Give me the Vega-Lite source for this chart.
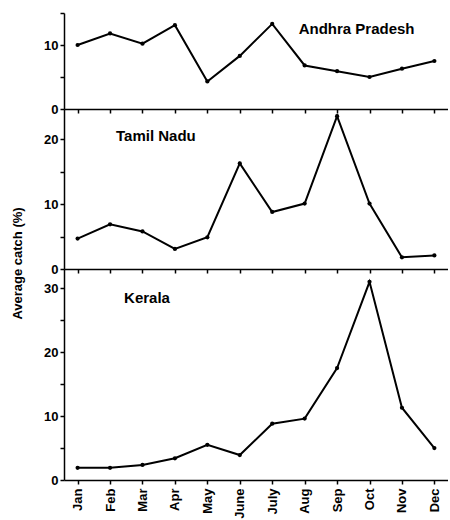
{
  "$schema": "https://vega.github.io/schema/vega-lite/v6.json",
  "background": "white",
  "padding": {"left": 11, "top": 12, "right": 0, "bottom": 0},
  "bounds": "flush",
  "spacing": 0,
  "datasets": {
    "catch": [
      {"region": "Andhra Pradesh", "month": "Jan", "value": 10.0},
      {"region": "Andhra Pradesh", "month": "Feb", "value": 11.8},
      {"region": "Andhra Pradesh", "month": "Mar", "value": 10.2},
      {"region": "Andhra Pradesh", "month": "Apr", "value": 13.1},
      {"region": "Andhra Pradesh", "month": "May", "value": 4.3},
      {"region": "Andhra Pradesh", "month": "June", "value": 8.3},
      {"region": "Andhra Pradesh", "month": "July", "value": 13.3},
      {"region": "Andhra Pradesh", "month": "Aug", "value": 6.8},
      {"region": "Andhra Pradesh", "month": "Sep", "value": 5.9},
      {"region": "Andhra Pradesh", "month": "Oct", "value": 5.0},
      {"region": "Andhra Pradesh", "month": "Nov", "value": 6.3},
      {"region": "Andhra Pradesh", "month": "Dec", "value": 7.5},
      {"region": "Tamil Nadu", "month": "Jan", "value": 4.7},
      {"region": "Tamil Nadu", "month": "Feb", "value": 6.9},
      {"region": "Tamil Nadu", "month": "Mar", "value": 5.8},
      {"region": "Tamil Nadu", "month": "Apr", "value": 3.1},
      {"region": "Tamil Nadu", "month": "May", "value": 4.9},
      {"region": "Tamil Nadu", "month": "June", "value": 16.3},
      {"region": "Tamil Nadu", "month": "July", "value": 8.8},
      {"region": "Tamil Nadu", "month": "Aug", "value": 10.1},
      {"region": "Tamil Nadu", "month": "Sep", "value": 23.6},
      {"region": "Tamil Nadu", "month": "Oct", "value": 10.1},
      {"region": "Tamil Nadu", "month": "Nov", "value": 1.8},
      {"region": "Tamil Nadu", "month": "Dec", "value": 2.1},
      {"region": "Kerala", "month": "Jan", "value": 1.9},
      {"region": "Kerala", "month": "Feb", "value": 1.9},
      {"region": "Kerala", "month": "Mar", "value": 2.35},
      {"region": "Kerala", "month": "Apr", "value": 3.4},
      {"region": "Kerala", "month": "May", "value": 5.5},
      {"region": "Kerala", "month": "June", "value": 3.9},
      {"region": "Kerala", "month": "July", "value": 8.8},
      {"region": "Kerala", "month": "Aug", "value": 9.6},
      {"region": "Kerala", "month": "Sep", "value": 17.5},
      {"region": "Kerala", "month": "Oct", "value": 31.0},
      {"region": "Kerala", "month": "Nov", "value": 11.3},
      {"region": "Kerala", "month": "Dec", "value": 5.0}
    ]
  },
  "config": {
    "view": {"stroke": null},
    "font": "Liberation Sans",
    "axis": {
      "domainColor": "black",
      "domainWidth": 1.5,
      "tickColor": "black",
      "tickWidth": 1.5,
      "tickSize": 4,
      "labelColor": "black",
      "labelFont": "Liberation Sans",
      "labelFontWeight": "bold",
      "labelFontSize": 13,
      "titleColor": "black",
      "titleFont": "Liberation Sans",
      "titleFontWeight": "bold",
      "titleFontSize": 13,
      "grid": false
    },
    "line": {"color": "black", "strokeWidth": 2},
    "point": {"color": "black", "filled": true, "size": 18, "opacity": 1},
    "text": {"font": "Liberation Sans", "fontWeight": "bold", "fontSize": 15, "color": "black", "align": "left", "baseline": "middle"}
  },
  "vconcat": [
    {
      "width": 384,
      "height": 96,
      "data": {"name": "catch"},
      "transform": [{"filter": "datum.region === 'Andhra Pradesh'"}],
      "encoding": {
        "x": {"field": "month", "type": "nominal", "sort": ["Jan","Feb","Mar","Apr","May","June","July","Aug","Sep","Oct","Nov","Dec"], "scale": {"type": "point", "padding": 0.42}, "axis": {"labels": false, "title": null}},
        "y": {"field": "value", "type": "quantitative", "scale": {"domain": [0, 15], "nice": false}, "axis": {"values": [0, 5, 10, 15], "labelExpr": "datum.value % 10 === 0 ? datum.label : ''", "title": null}}
      },
      "layer": [
        {"mark": "line"},
        {"mark": "point"},
        {
          "data": {"values": [{"label": "Andhra Pradesh", "month": "Aug", "value": 12.5}]},
          "mark": {"type": "text", "dx": -6},
          "encoding": {"text": {"field": "label"}}
        }
      ]
    },
    {
      "width": 384,
      "height": 160,
      "data": {"name": "catch"},
      "transform": [{"filter": "datum.region === 'Tamil Nadu'"}],
      "encoding": {
        "x": {"field": "month", "type": "nominal", "sort": ["Jan","Feb","Mar","Apr","May","June","July","Aug","Sep","Oct","Nov","Dec"], "scale": {"type": "point", "padding": 0.42}, "axis": {"labels": false, "title": null}},
        "y": {"field": "value", "type": "quantitative", "scale": {"domain": [0, 24.7], "nice": false}, "axis": {"values": [0, 5, 10, 15, 20], "labelExpr": "datum.value % 10 === 0 ? datum.label : ''", "title": "Average catch (%)", "titleY": 154, "titlePadding": 19}}
      },
      "layer": [
        {"mark": "line"},
        {"mark": "point"},
        {
          "data": {"values": [{"label": "Tamil Nadu", "month": "Feb", "value": 20.5}]},
          "mark": {"type": "text", "dx": 6},
          "encoding": {"text": {"field": "label"}}
        }
      ]
    },
    {
      "width": 384,
      "height": 211,
      "data": {"name": "catch"},
      "transform": [{"filter": "datum.region === 'Kerala'"}],
      "encoding": {
        "x": {"field": "month", "type": "nominal", "sort": ["Jan","Feb","Mar","Apr","May","June","July","Aug","Sep","Oct","Nov","Dec"], "scale": {"type": "point", "padding": 0.42}, "axis": {"labelAngle": -90, "labelFontSize": 13, "title": null, "labelPadding": 4}},
        "y": {"field": "value", "type": "quantitative", "scale": {"domain": [0, 33], "nice": false}, "axis": {"values": [0, 5, 10, 15, 20, 25, 30], "labelExpr": "datum.value % 10 === 0 ? datum.label : ''", "title": null}}
      },
      "layer": [
        {"mark": "line"},
        {"mark": "point"},
        {
          "data": {"values": [{"label": "Kerala", "month": "Feb", "value": 28.5}]},
          "mark": {"type": "text", "dx": 14},
          "encoding": {"text": {"field": "label"}}
        }
      ]
    }
  ]
}
